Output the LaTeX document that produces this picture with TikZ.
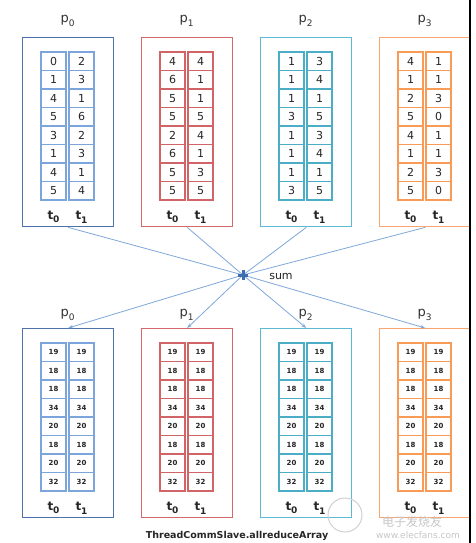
\documentclass[tikz,border=0pt]{standalone}
\usepackage{fontspec}
\setmainfont{DejaVu Sans}
\newfontfamily\cjk{Noto Sans CJK SC}
\usetikzlibrary{arrows.meta}
\definecolor{bO}{HTML}{4F72A8}
\definecolor{bI}{HTML}{7BA5DB}
\definecolor{rO}{HTML}{D4686A}
\definecolor{rI}{HTML}{D06466}
\definecolor{tO}{HTML}{5DB9D2}
\definecolor{tI}{HTML}{4CADC7}
\definecolor{oO}{HTML}{F8A56E}
\definecolor{oI}{HTML}{F89B57}
\definecolor{lineC}{HTML}{7FA8DA}
\definecolor{sumC}{HTML}{3D6DB0}
\newcommand{\sublab}[2]{#1\raisebox{-0.3em}{\fontsize{9}{9}\selectfont #2}}
\def\TA{{0,1,4,5,3,1,4,5, 4,6,5,5,2,6,5,5, 1,1,1,3,1,1,1,3, 4,1,2,5,4,1,2,5}}
\def\TB{{2,3,1,6,2,3,1,4, 4,1,1,5,4,1,3,5, 3,4,1,5,3,4,1,5, 1,1,3,0,1,1,3,0}}
\begin{document}
\begin{tikzpicture}[x=1pt,y=-1pt,
  outer/.style={draw=#1, line width=1.4pt, minimum width=91pt, minimum height=189pt, inner sep=0pt, anchor=north west},
  cell/.style={draw=#1, line width=1.1pt, minimum width=25pt, minimum height=18.5pt, inner sep=0pt, text=black!85},
  topnum/.style={font=\fontsize{11}{11}\selectfont},
  botnum/.style={font=\fontsize{7}{7}\selectfont\bfseries},
  plab/.style={font=\fontsize{13}{13}\selectfont, text=black!80},
  tlab/.style={font=\fontsize{12}{12}\selectfont\bfseries, text=black!85},
  conn/.style={draw=lineC, line width=0.8pt},
  arr/.style={conn, -{Stealth[length=5pt,width=3.5pt]}},
  wm/.style={text=black!22, inner sep=0pt},
]
\useasboundingbox (0,0) rectangle (475,543);
\fill[white] (0,0) rectangle (475,543);

\foreach \i/\oc/\ic in {0/bO/bI,1/rO/rI,2/tO/tI,3/oO/oI}{
  \pgfmathsetmacro{\xl}{22+119*\i}
  \node[outer=\oc] (T\i) at (\xl,37) {};
  \node[outer=\oc] (B\i) at (\xl,328) {};
  \node[plab] (PT\i) at (\xl+45.5,21) {\sublab{p}{\i}};
  \node[plab] (PB\i) at (\xl+45.5,315) {\sublab{p}{\i}};
  \node[tlab] (TTa\i) at (\xl+31.5,217) {\sublab{t}{0}};
  \node[tlab] (TTb\i) at (\xl+59.5,217) {\sublab{t}{1}};
  \node[tlab] (BTa\i) at (\xl+31.5,508) {\sublab{t}{0}};
  \node[tlab] (BTb\i) at (\xl+59.5,508) {\sublab{t}{1}};
  \foreach \r in {0,...,7}{
    \pgfmathtruncatemacro{\va}{\TA[8*\i+\r]}
    \pgfmathtruncatemacro{\vb}{\TB[8*\i+\r]}
    \node[cell=\ic,topnum] (Ta\i r\r) at (\xl+31.5,{61.25+18.5*\r}) {\va};
    \node[cell=\ic,topnum] (Tb\i r\r) at (\xl+59.5,{61.25+18.5*\r}) {\vb};
  }
  \foreach \v [count=\r from 0] in {19,18,18,34,20,18,20,32}{
    \node[cell=\ic,botnum] (Ba\i r\r) at (\xl+31.5,{352.25+18.5*\r}) {\v};
    \node[cell=\ic,botnum] (Bb\i r\r) at (\xl+59.5,{352.25+18.5*\r}) {\v};
  }
}

\node[inner sep=0pt, minimum size=9pt] (S) at (243,275) {};
\node[font=\fontsize{11}{11}\selectfont, text=black!85] (SL) at (281,276) {sum};
\foreach \i in {0,...,3}{
  \draw[conn] (T\i.south) -- (S.center);
  \draw[arr] (S.center) -- (B\i.north);
}
\draw[sumC, line width=3pt] (S.north) -- (S.south) (S.west) -- (S.east);

\node[font=\fontsize{9.5}{9.5}\selectfont\bfseries, text=black!85] (CAP) at (237,536) {ThreadCommSlave.allreduceArray};

\draw[black!18, line width=1pt] (345,515) circle[radius=17pt];
\node[wm, font=\cjk\fontsize{12}{12}\selectfont] (WM1) at (412,522) {电子发烧友};
\node[wm, font=\fontsize{9}{9}\selectfont] (WM2) at (418,535) {www.elecfans.com};

\draw[black, line width=1.2pt] (470,0) -- (470,543);
\end{tikzpicture}
\end{document}
